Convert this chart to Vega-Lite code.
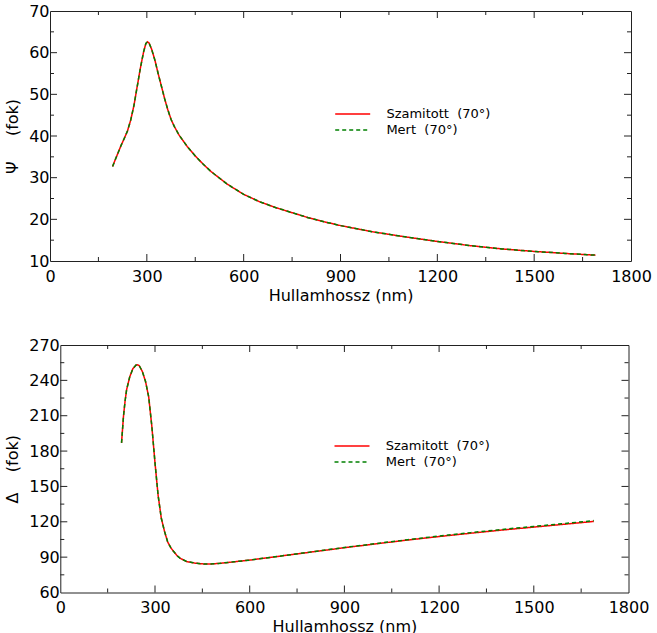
{
  "$schema": "https://vega.github.io/schema/vega-lite/v6.json",
  "padding": {"left": 4, "top": 3, "right": 5, "bottom": 5},
  "background": "white",
  "datasets": {
    "psi": [
      {"s":"Szamitott","wl":194,"v":32.7},{"s":"Szamitott","wl":200,"v":33.9},{"s":"Szamitott","wl":210,"v":35.8},{"s":"Szamitott","wl":220,"v":37.7},{"s":"Szamitott","wl":230,"v":39.4},{"s":"Szamitott","wl":240,"v":41.2},{"s":"Szamitott","wl":250,"v":43.8},{"s":"Szamitott","wl":260,"v":47.3},{"s":"Szamitott","wl":270,"v":51.8},{"s":"Szamitott","wl":280,"v":56.3},{"s":"Szamitott","wl":290,"v":60.2},{"s":"Szamitott","wl":297,"v":62.2},{"s":"Szamitott","wl":302,"v":62.6},{"s":"Szamitott","wl":307,"v":62.3},{"s":"Szamitott","wl":315,"v":60.8},{"s":"Szamitott","wl":325,"v":58.2},{"s":"Szamitott","wl":335,"v":55.0},{"s":"Szamitott","wl":345,"v":52.0},{"s":"Szamitott","wl":355,"v":49.0},{"s":"Szamitott","wl":365,"v":46.3},{"s":"Szamitott","wl":375,"v":44.0},{"s":"Szamitott","wl":385,"v":42.3},{"s":"Szamitott","wl":400,"v":40.2},{"s":"Szamitott","wl":425,"v":37.5},{"s":"Szamitott","wl":450,"v":35.2},{"s":"Szamitott","wl":475,"v":33.2},{"s":"Szamitott","wl":500,"v":31.4},{"s":"Szamitott","wl":550,"v":28.4},{"s":"Szamitott","wl":600,"v":26.0},{"s":"Szamitott","wl":650,"v":24.2},{"s":"Szamitott","wl":700,"v":22.8},{"s":"Szamitott","wl":750,"v":21.6},{"s":"Szamitott","wl":800,"v":20.4},{"s":"Szamitott","wl":850,"v":19.4},{"s":"Szamitott","wl":900,"v":18.5},{"s":"Szamitott","wl":1000,"v":17.0},{"s":"Szamitott","wl":1100,"v":15.8},{"s":"Szamitott","wl":1200,"v":14.7},{"s":"Szamitott","wl":1300,"v":13.7},{"s":"Szamitott","wl":1400,"v":12.9},{"s":"Szamitott","wl":1500,"v":12.3},{"s":"Szamitott","wl":1600,"v":11.8},{"s":"Szamitott","wl":1690,"v":11.4},
      {"s":"Mert","wl":194,"v":32.7},{"s":"Mert","wl":200,"v":33.9},{"s":"Mert","wl":210,"v":35.8},{"s":"Mert","wl":220,"v":37.7},{"s":"Mert","wl":230,"v":39.4},{"s":"Mert","wl":240,"v":41.2},{"s":"Mert","wl":250,"v":43.8},{"s":"Mert","wl":260,"v":47.3},{"s":"Mert","wl":270,"v":51.8},{"s":"Mert","wl":280,"v":56.3},{"s":"Mert","wl":290,"v":60.2},{"s":"Mert","wl":297,"v":62.2},{"s":"Mert","wl":302,"v":62.6},{"s":"Mert","wl":307,"v":62.3},{"s":"Mert","wl":315,"v":60.8},{"s":"Mert","wl":325,"v":58.2},{"s":"Mert","wl":335,"v":55.0},{"s":"Mert","wl":345,"v":52.0},{"s":"Mert","wl":355,"v":49.0},{"s":"Mert","wl":365,"v":46.3},{"s":"Mert","wl":375,"v":44.0},{"s":"Mert","wl":385,"v":42.3},{"s":"Mert","wl":400,"v":40.2},{"s":"Mert","wl":425,"v":37.5},{"s":"Mert","wl":450,"v":35.2},{"s":"Mert","wl":475,"v":33.2},{"s":"Mert","wl":500,"v":31.4},{"s":"Mert","wl":550,"v":28.4},{"s":"Mert","wl":600,"v":26.0},{"s":"Mert","wl":650,"v":24.2},{"s":"Mert","wl":700,"v":22.8},{"s":"Mert","wl":750,"v":21.6},{"s":"Mert","wl":800,"v":20.4},{"s":"Mert","wl":850,"v":19.4},{"s":"Mert","wl":900,"v":18.5},{"s":"Mert","wl":1000,"v":17.0},{"s":"Mert","wl":1100,"v":15.8},{"s":"Mert","wl":1200,"v":14.7},{"s":"Mert","wl":1300,"v":13.7},{"s":"Mert","wl":1400,"v":12.9},{"s":"Mert","wl":1500,"v":12.3},{"s":"Mert","wl":1600,"v":11.8},{"s":"Mert","wl":1690,"v":11.4}
    ],
    "delta": [
      {"s":"Szamitott","wl":194,"v":187},{"s":"Szamitott","wl":200,"v":209},{"s":"Szamitott","wl":205,"v":222},{"s":"Szamitott","wl":210,"v":232},{"s":"Szamitott","wl":220,"v":243},{"s":"Szamitott","wl":230,"v":250},{"s":"Szamitott","wl":240,"v":253},{"s":"Szamitott","wl":245,"v":253.2},{"s":"Szamitott","wl":250,"v":252.5},{"s":"Szamitott","wl":260,"v":247.5},{"s":"Szamitott","wl":270,"v":239},{"s":"Szamitott","wl":280,"v":226},{"s":"Szamitott","wl":290,"v":201},{"s":"Szamitott","wl":300,"v":170},{"s":"Szamitott","wl":310,"v":142},{"s":"Szamitott","wl":320,"v":123},{"s":"Szamitott","wl":330,"v":112},{"s":"Szamitott","wl":340,"v":103},{"s":"Szamitott","wl":350,"v":98},{"s":"Szamitott","wl":360,"v":94.5},{"s":"Szamitott","wl":370,"v":91.2},{"s":"Szamitott","wl":380,"v":89},{"s":"Szamitott","wl":400,"v":86.3},{"s":"Szamitott","wl":425,"v":85},{"s":"Szamitott","wl":450,"v":84.3},{"s":"Szamitott","wl":475,"v":84.2},{"s":"Szamitott","wl":500,"v":84.6},{"s":"Szamitott","wl":550,"v":86},{"s":"Szamitott","wl":600,"v":87.5},{"s":"Szamitott","wl":700,"v":91},{"s":"Szamitott","wl":800,"v":94.5},{"s":"Szamitott","wl":900,"v":98},{"s":"Szamitott","wl":1000,"v":101.3},{"s":"Szamitott","wl":1100,"v":104.5},{"s":"Szamitott","wl":1200,"v":107.5},{"s":"Szamitott","wl":1300,"v":110.3},{"s":"Szamitott","wl":1400,"v":113},{"s":"Szamitott","wl":1500,"v":115.5},{"s":"Szamitott","wl":1600,"v":118},{"s":"Szamitott","wl":1690,"v":120.3},
      {"s":"Mert","wl":194,"v":187},{"s":"Mert","wl":200,"v":209},{"s":"Mert","wl":205,"v":222},{"s":"Mert","wl":210,"v":232},{"s":"Mert","wl":220,"v":243},{"s":"Mert","wl":230,"v":250},{"s":"Mert","wl":240,"v":253},{"s":"Mert","wl":245,"v":253.2},{"s":"Mert","wl":250,"v":252.5},{"s":"Mert","wl":260,"v":247.5},{"s":"Mert","wl":270,"v":239},{"s":"Mert","wl":280,"v":226},{"s":"Mert","wl":290,"v":201},{"s":"Mert","wl":300,"v":170},{"s":"Mert","wl":310,"v":142},{"s":"Mert","wl":320,"v":123},{"s":"Mert","wl":330,"v":112},{"s":"Mert","wl":340,"v":103},{"s":"Mert","wl":350,"v":98},{"s":"Mert","wl":360,"v":94.5},{"s":"Mert","wl":370,"v":91.2},{"s":"Mert","wl":380,"v":89},{"s":"Mert","wl":400,"v":86.3},{"s":"Mert","wl":425,"v":85},{"s":"Mert","wl":450,"v":84.3},{"s":"Mert","wl":475,"v":84.2},{"s":"Mert","wl":500,"v":84.6},{"s":"Mert","wl":550,"v":86},{"s":"Mert","wl":600,"v":87.5},{"s":"Mert","wl":700,"v":91},{"s":"Mert","wl":800,"v":94.6},{"s":"Mert","wl":900,"v":98.2},{"s":"Mert","wl":1000,"v":101.5},{"s":"Mert","wl":1100,"v":104.8},{"s":"Mert","wl":1200,"v":107.9},{"s":"Mert","wl":1300,"v":110.8},{"s":"Mert","wl":1400,"v":113.5},{"s":"Mert","wl":1500,"v":116.1},{"s":"Mert","wl":1600,"v":118.6},{"s":"Mert","wl":1690,"v":121}
    ],
    "xticks": [
      {"v":150,"major":false},{"v":300,"major":true},{"v":450,"major":false},{"v":600,"major":true},{"v":750,"major":false},{"v":900,"major":true},{"v":1050,"major":false},{"v":1200,"major":true},{"v":1350,"major":false},{"v":1500,"major":true},{"v":1650,"major":false}
    ],
    "psiticks": [
      {"v":15,"major":false},{"v":20,"major":true},{"v":25,"major":false},{"v":30,"major":true},{"v":35,"major":false},{"v":40,"major":true},{"v":45,"major":false},{"v":50,"major":true},{"v":55,"major":false},{"v":60,"major":true},{"v":65,"major":false}
    ],
    "deltaticks": [
      {"v":75,"major":false},{"v":90,"major":true},{"v":105,"major":false},{"v":120,"major":true},{"v":135,"major":false},{"v":150,"major":true},{"v":165,"major":false},{"v":180,"major":true},{"v":195,"major":false},{"v":210,"major":true},{"v":225,"major":false},{"v":240,"major":true},{"v":255,"major":false}
    ]
  },
  "concat": [
    {
      "width": 581,
      "height": 250,
      "layer": [
        {
          "data": {"name": "psi"},
          "mark": {"type": "line", "strokeWidth": 1.5, "clip": true},
          "encoding": {
            "x": {"field": "wl", "type": "quantitative", "scale": {"domain": [0, 1800], "nice": false, "zero": false},
              "axis": {"title": "Hullamhossz (nm)", "values": [0,300,600,900,1200,1500,1800], "format": "d", "ticks": false, "labelPadding": 7}},
            "y": {"field": "v", "type": "quantitative", "scale": {"domain": [10, 70], "nice": false, "zero": false},
              "axis": {"title": "Ψ\u00a0\u00a0\u00a0\u00a0 (fok)", "values": [10,20,30,40,50,60,70], "format": "d", "ticks": false, "labelPadding": 1}},
            "color": {"field": "s", "type": "nominal", "scale": {"domain": ["Szamitott", "Mert"], "range": ["#ff0000", "#008000"]},
              "legend": {"orient": "none", "legendX": 295.7, "legendY": 96, "title": null, "labelExpr": "datum.label + '\u00a0 (70°)'"}},
            "strokeDash": {"field": "s", "type": "nominal", "scale": {"domain": ["Szamitott", "Mert"], "range": [[1, 0], [4, 3]]},
              "legend": {"orient": "none", "legendX": 295.7, "legendY": 96, "title": null, "labelExpr": "datum.label + '\u00a0 (70°)'"}}
          }
        },
        {
          "data": {"name": "psi"},
          "mark": {"type": "line", "opacity": 0},
          "encoding": {
            "x": {"field": "wl", "type": "quantitative", "axis": {"orient": "top", "title": null, "labels": false, "ticks": false, "values": [0,1800]}},
            "y": {"field": "v", "type": "quantitative", "axis": {"orient": "right", "title": null, "labels": false, "ticks": false, "values": [10,70]}}
          }
        },
        {"data": {"name": "xticks"}, "transform": [{"filter": "datum.major"}],
          "mark": {"type": "tick", "orient": "vertical", "thickness": 1, "color": "#222", "opacity": 1, "size": 7, "yOffset": -3.5},
          "encoding": {"x": {"field": "v", "type": "quantitative", "axis": null}, "y": {"datum": 10, "type": "quantitative", "axis": null}}},
        {"data": {"name": "xticks"}, "transform": [{"filter": "!datum.major"}],
          "mark": {"type": "tick", "orient": "vertical", "thickness": 1, "color": "#222", "opacity": 1, "size": 4, "yOffset": -2},
          "encoding": {"x": {"field": "v", "type": "quantitative", "axis": null}, "y": {"datum": 10, "type": "quantitative", "axis": null}}},
        {"data": {"name": "xticks"}, "transform": [{"filter": "datum.major"}],
          "mark": {"type": "tick", "orient": "vertical", "thickness": 1, "color": "#222", "opacity": 1, "size": 7, "yOffset": 3.5},
          "encoding": {"x": {"field": "v", "type": "quantitative", "axis": null}, "y": {"datum": 70, "type": "quantitative", "axis": null}}},
        {"data": {"name": "xticks"}, "transform": [{"filter": "!datum.major"}],
          "mark": {"type": "tick", "orient": "vertical", "thickness": 1, "color": "#222", "opacity": 1, "size": 4, "yOffset": 2},
          "encoding": {"x": {"field": "v", "type": "quantitative", "axis": null}, "y": {"datum": 70, "type": "quantitative", "axis": null}}},
        {"data": {"name": "psiticks"}, "transform": [{"filter": "datum.major"}],
          "mark": {"type": "tick", "orient": "horizontal", "thickness": 1, "color": "#222", "opacity": 1, "size": 7, "xOffset": 3.5},
          "encoding": {"y": {"field": "v", "type": "quantitative", "axis": null}, "x": {"datum": 0, "type": "quantitative", "axis": null}}},
        {"data": {"name": "psiticks"}, "transform": [{"filter": "!datum.major"}],
          "mark": {"type": "tick", "orient": "horizontal", "thickness": 1, "color": "#222", "opacity": 1, "size": 4, "xOffset": 2},
          "encoding": {"y": {"field": "v", "type": "quantitative", "axis": null}, "x": {"datum": 0, "type": "quantitative", "axis": null}}},
        {"data": {"name": "psiticks"}, "transform": [{"filter": "datum.major"}],
          "mark": {"type": "tick", "orient": "horizontal", "thickness": 1, "color": "#222", "opacity": 1, "size": 7, "xOffset": -3.5},
          "encoding": {"y": {"field": "v", "type": "quantitative", "axis": null}, "x": {"datum": 1800, "type": "quantitative", "axis": null}}},
        {"data": {"name": "psiticks"}, "transform": [{"filter": "!datum.major"}],
          "mark": {"type": "tick", "orient": "horizontal", "thickness": 1, "color": "#222", "opacity": 1, "size": 4, "xOffset": -2},
          "encoding": {"y": {"field": "v", "type": "quantitative", "axis": null}, "x": {"datum": 1800, "type": "quantitative", "axis": null}}}
      ],
      "resolve": {"axis": {"x": "independent", "y": "independent"}}
    },
    {
      "width": 578.5,
      "height": 247.5,
      "layer": [
        {
          "data": {"name": "delta"},
          "mark": {"type": "line", "strokeWidth": 1.5, "clip": true},
          "encoding": {
            "x": {"field": "wl", "type": "quantitative", "scale": {"domain": [0, 1800], "range": [10.3, 578.5], "nice": false, "zero": false},
              "axis": {"title": "Hullamhossz (nm)", "values": [0,300,600,900,1200,1500,1800], "format": "d", "ticks": false, "labelPadding": 7}},
            "y": {"field": "v", "type": "quantitative", "scale": {"domain": [60, 270], "nice": false, "zero": false},
              "axis": {"title": "Δ\u00a0\u00a0\u00a0 (fok)", "offset": -10.3, "values": [60,90,120,150,180,210,240,270], "format": "d", "ticks": false, "labelPadding": 1}},
            "color": {"field": "s", "type": "nominal", "scale": {"domain": ["Szamitott", "Mert"], "range": ["#ff0000", "#008000"]},
              "legend": {"orient": "none", "legendX": 295, "legendY": 94, "title": null, "labelExpr": "datum.label + '\u00a0 (70°)'"}},
            "strokeDash": {"field": "s", "type": "nominal", "scale": {"domain": ["Szamitott", "Mert"], "range": [[1, 0], [4, 3]]},
              "legend": {"orient": "none", "legendX": 295, "legendY": 94, "title": null, "labelExpr": "datum.label + '\u00a0 (70°)'"}}
          }
        },
        {
          "data": {"name": "delta"},
          "mark": {"type": "line", "opacity": 0},
          "encoding": {
            "x": {"field": "wl", "type": "quantitative", "axis": {"orient": "top", "title": null, "labels": false, "ticks": false, "values": [0,1800]}},
            "y": {"field": "v", "type": "quantitative", "axis": {"orient": "right", "title": null, "labels": false, "ticks": false, "values": [60,270]}}
          }
        },
        {"data": {"name": "xticks"}, "transform": [{"filter": "datum.major"}],
          "mark": {"type": "tick", "orient": "vertical", "thickness": 1, "color": "#222", "opacity": 1, "size": 7, "yOffset": -3.5},
          "encoding": {"x": {"field": "v", "type": "quantitative", "axis": null}, "y": {"datum": 60, "type": "quantitative", "axis": null}}},
        {"data": {"name": "xticks"}, "transform": [{"filter": "!datum.major"}],
          "mark": {"type": "tick", "orient": "vertical", "thickness": 1, "color": "#222", "opacity": 1, "size": 4, "yOffset": -2},
          "encoding": {"x": {"field": "v", "type": "quantitative", "axis": null}, "y": {"datum": 60, "type": "quantitative", "axis": null}}},
        {"data": {"name": "xticks"}, "transform": [{"filter": "datum.major"}],
          "mark": {"type": "tick", "orient": "vertical", "thickness": 1, "color": "#222", "opacity": 1, "size": 7, "yOffset": 3.5},
          "encoding": {"x": {"field": "v", "type": "quantitative", "axis": null}, "y": {"datum": 270, "type": "quantitative", "axis": null}}},
        {"data": {"name": "xticks"}, "transform": [{"filter": "!datum.major"}],
          "mark": {"type": "tick", "orient": "vertical", "thickness": 1, "color": "#222", "opacity": 1, "size": 4, "yOffset": 2},
          "encoding": {"x": {"field": "v", "type": "quantitative", "axis": null}, "y": {"datum": 270, "type": "quantitative", "axis": null}}},
        {"data": {"name": "deltaticks"}, "transform": [{"filter": "datum.major"}],
          "mark": {"type": "tick", "orient": "horizontal", "thickness": 1, "color": "#222", "opacity": 1, "size": 7, "xOffset": 3.5},
          "encoding": {"y": {"field": "v", "type": "quantitative", "axis": null}, "x": {"datum": 0, "type": "quantitative", "axis": null}}},
        {"data": {"name": "deltaticks"}, "transform": [{"filter": "!datum.major"}],
          "mark": {"type": "tick", "orient": "horizontal", "thickness": 1, "color": "#222", "opacity": 1, "size": 4, "xOffset": 2},
          "encoding": {"y": {"field": "v", "type": "quantitative", "axis": null}, "x": {"datum": 0, "type": "quantitative", "axis": null}}},
        {"data": {"name": "deltaticks"}, "transform": [{"filter": "datum.major"}],
          "mark": {"type": "tick", "orient": "horizontal", "thickness": 1, "color": "#222", "opacity": 1, "size": 7, "xOffset": -3.5},
          "encoding": {"y": {"field": "v", "type": "quantitative", "axis": null}, "x": {"datum": 1800, "type": "quantitative", "axis": null}}},
        {"data": {"name": "deltaticks"}, "transform": [{"filter": "!datum.major"}],
          "mark": {"type": "tick", "orient": "horizontal", "thickness": 1, "color": "#222", "opacity": 1, "size": 4, "xOffset": -2},
          "encoding": {"y": {"field": "v", "type": "quantitative", "axis": null}, "x": {"datum": 1800, "type": "quantitative", "axis": null}}}
      ],
      "resolve": {"axis": {"x": "independent", "y": "independent"}}
    }
  ],
  "columns": 1,
  "align": "all",
  "spacing": 34,
  "resolve": {"scale": {"color": "independent", "strokeDash": "independent"}, "legend": {"color": "independent", "strokeDash": "independent"}},
  "config": {
    "font": "DejaVu Sans",
    "view": {"stroke": null},
    "axis": {
      "grid": false, "domainColor": "#222", "domainWidth": 1,
      "labelColor": "#000", "titleColor": "#000", "labelFont": "DejaVu Sans", "labelFontSize": 16,
      "titleFont": "DejaVu Sans", "titleFontSize": 16, "titleFontWeight": "normal",
      "labelFlush": false, "labelOverlap": false, "labelBound": false, "titlePadding": 3
    },
    "axisY": {"titlePadding": 8},
    "legend": {
      "symbolType": "M-3,0H3", "symbolSize": 136, "symbolStrokeWidth": 1.5, "labelFont": "DejaVu Sans",
      "labelFontSize": 13, "labelColor": "#000", "labelOffset": 26.7, "rowPadding": 2, "padding": 0
    }
  }
}
